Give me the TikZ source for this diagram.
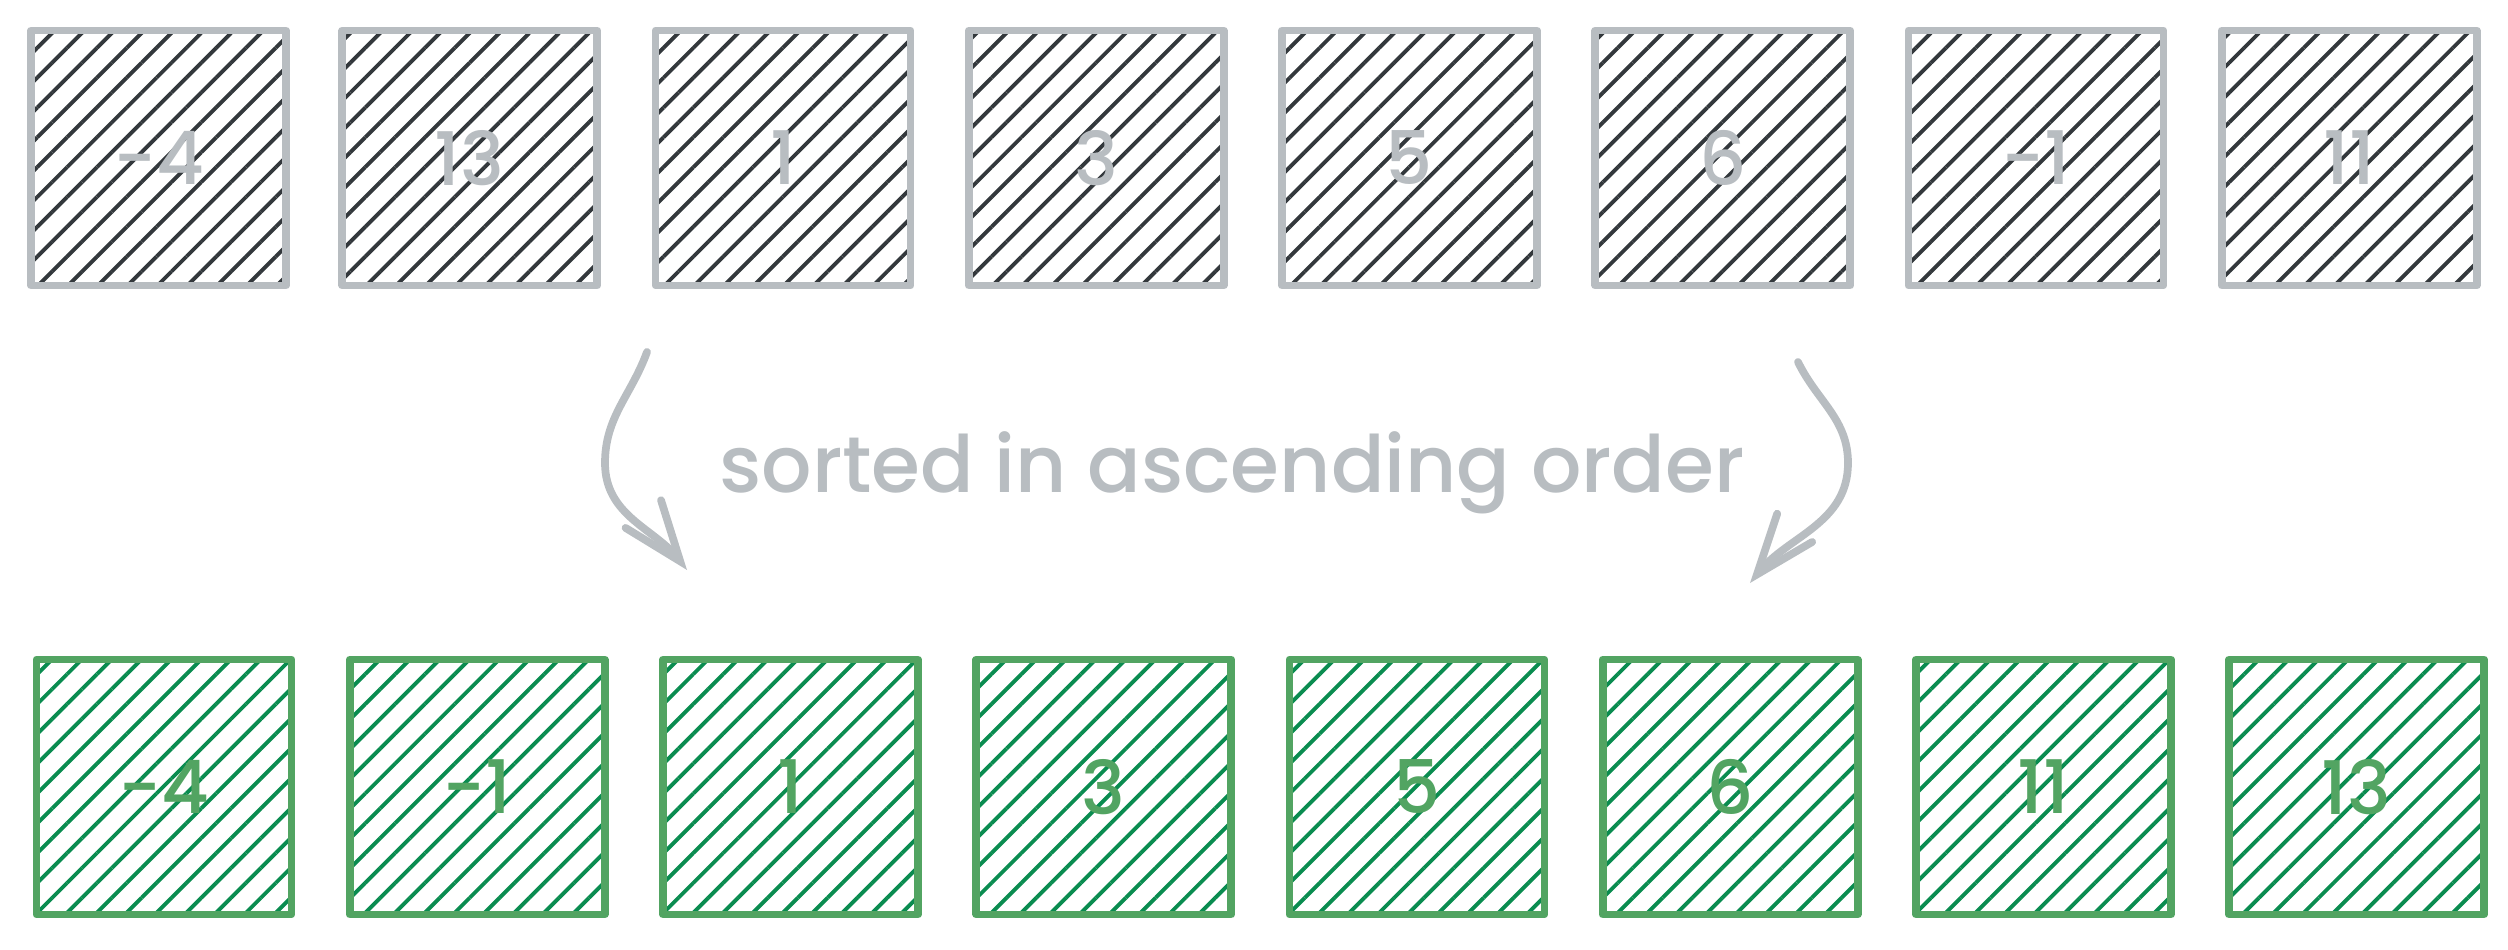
\documentclass[tikz,border=0pt]{standalone}
\usepackage{fontspec}
\setmainfont{Poppins}
\newfontfamily\sketchfont{Poppins}[UprightFont=* Medium]
\usepackage{tikz}
\usetikzlibrary{positioning,chains,patterns.meta,arrows.meta}
\definecolor{boxgray}{HTML}{B8BDC1}
\definecolor{hatchdark}{HTML}{33383C}
\definecolor{boxgreen}{HTML}{52A462}
\definecolor{hatchgreen}{HTML}{0A8C50}
\tikzset{%
	oldcell/.style={%
		rectangle,
		minimum size=2.55cm,
		inner sep=0pt,
		line width=2.2pt,
		line join=round,
		draw=boxgray,
		pattern={Lines[angle=45,distance=6pt,line width=1.1pt]},
		pattern color=hatchdark,
		text=boxgray,
		font=\sketchfont\fontsize{21}{24}\selectfont
	},
	newcell/.style={%
		oldcell,
		draw=boxgreen,
		pattern color=hatchgreen,
		text=boxgreen
	},
	sortarrow/.style={%
		draw=boxgray,
		line width=2.2pt,
		line cap=round,
		-{Straight Barb[length=6mm,width=4.5mm,line cap=round]}
	}
}

\begin{document}
\begin{tikzpicture}[node distance=0.505cm, start chain=top going right, start chain=bottom going right]
        \useasboundingbox (0,0) rectangle (25.08,-9.5);
        % unsorted
        \node [on chain=top, oldcell] (u1) at (1.585,-1.58) {-4};
        \node [on chain=top, oldcell] (u2) {13};
        \node [on chain=top, oldcell] (u3) {1};
        \node [on chain=top, oldcell] (u4) {3};
        \node [on chain=top, oldcell] (u5) {5};
        \node [on chain=top, oldcell] (u6) {6};
        \node [on chain=top, oldcell] (u7) {-1};
        \node [on chain=top, oldcell] (u8) {11};
        % sorted
        \node [on chain=bottom, newcell] (s1) at (1.64,-7.87) {-4};
        \node [on chain=bottom, newcell] (s2) {-1};
        \node [on chain=bottom, newcell] (s3) {1};
        \node [on chain=bottom, newcell] (s4) {3};
        \node [on chain=bottom, newcell] (s5) {5};
        \node [on chain=bottom, newcell] (s6) {6};
        \node [on chain=bottom, newcell] (s7) {11};
        \node [on chain=bottom, newcell] (s8) {13};
        \node [text=boxgray, font=\sketchfont\fontsize{22.5}{26}\selectfont, anchor=base] (label) at (12.32,-4.92) {sorted in ascending order};
        \coordinate (la) at (6.47,-3.52);
        \coordinate (lm) at (6.05,-4.63);
        \coordinate (lb) at (6.87,-5.70);
        \coordinate (ra) at (17.98,-3.62);
        \coordinate (rm) at (18.48,-4.63);
        \coordinate (rb) at (17.50,-5.83);
        \draw [sortarrow] (la) to[out=250, in=90] (lm) to[out=270, in=128] (lb);
        \draw [sortarrow] (ra) to[out=296, in=90] (rm) to[out=270, in=51] (rb);
    \end{tikzpicture}
\end{document}
